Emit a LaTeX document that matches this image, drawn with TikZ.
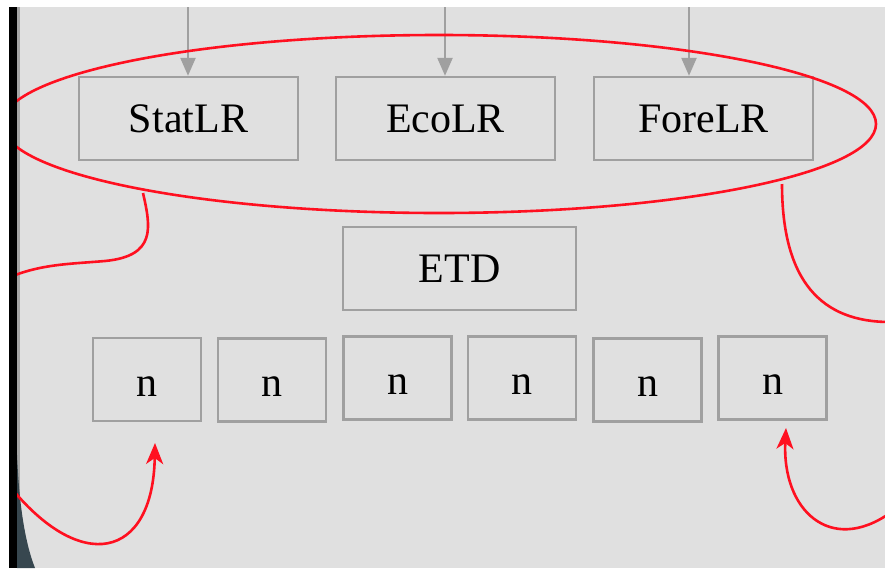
\documentclass[tikz,border=0pt]{standalone}
\usepackage{fontspec}
\setmainfont{Liberation Serif}
\usetikzlibrary{arrows.meta,shapes.geometric}
\definecolor{bg}{HTML}{E0E0E0}
\definecolor{boxgray}{HTML}{A0A0A0}
\definecolor{darkcorner}{HTML}{37474F}
\definecolor{redline}{HTML}{FF1020}
\tikzset{
  lbox/.style={draw=boxgray, line width=2.4pt, inner sep=0pt, minimum width=219pt, minimum height=83pt, font=\fontsize{42}{50}\selectfont},
  nbox/.style={draw=boxgray, line width=2.4pt, inner sep=0pt, minimum width=108pt, minimum height=83pt, text height=33pt, text depth=0pt, font=\fontsize{42}{50}\selectfont},
  garrow/.style={draw=boxgray, line width=2.4pt, -{Triangle[length=18pt,width=15pt]}},
  redcurve/.style={draw=redline, line width=2.6pt},
  redarrow/.style={draw=redline, line width=2.6pt, -{Stealth[length=21pt,width=17pt,inset=6pt]}},
}
\begin{document}
\begin{tikzpicture}[x=1pt,y=-1pt]
\useasboundingbox (0,0) rectangle (885,568);
% backgrounds
\fill[white] (0,0) rectangle (885,568);
\fill[bg] (17,7) rectangle (885,568);
\fill[gray!70] (17,7) rectangle (19.5,568);
\fill[darkcorner] (17,455) .. controls (19,500) and (24,540) .. (35,568) -- (17,568) -- cycle;

% boxes
\node[lbox] (stat) at (188.5,118.5) {StatLR};
\node[lbox] (eco) at (445.5,118.5) {EcoLR};
\node[lbox] (fore) at (703.5,118.5) {ForeLR};
\node[lbox, minimum width=233pt] (etd) at (459.5,268.5) {ETD};
\node[nbox] (n1) at (147,379.5) {n};
\node[nbox] (n2) at (272,380) {n};
\node[nbox] (n3) at (397.5,378) {n};
\node[nbox] (n4) at (522,378) {n};
\node[nbox] (n5) at (647.5,380) {n};
\node[nbox] (n6) at (772.5,378) {n};

% gray arrows from top
\coordinate (t1) at (188,7);
\coordinate (t2) at (445,7);
\coordinate (t3) at (689,7);
\draw[garrow] (t1) -- (t1 |- stat.north);
\draw[garrow] (t2) -- (t2 |- eco.north);
\draw[garrow] (t3) -- (t3 |- fore.north);

% ellipse grouping
\node[draw=redline, line width=2.6pt, ellipse, inner sep=0pt, minimum width=874pt, minimum height=178pt] (grp) at (439,124) {};

% red curves
\coordinate (c1s) at (143,193);
\coordinate (c1e) at (8,278);
\draw[redcurve] (c1s) .. controls (151,228) and (156,256) .. (105,261) .. controls (70,264) and (40,264) .. (c1e);
\coordinate (c2s) at (782,184);
\coordinate (c2e) at (890,322);
\draw[redcurve] (c2s) .. controls (782,282) and (822,322) .. (c2e);
\coordinate (c3s) at (8,484);
\coordinate (c3e) at (155,443);
\draw[redarrow] (c3s) .. controls (80,575) and (153,560) .. (c3e);
\coordinate (c4s) at (890,513);
\coordinate (c4e) at (786,428);
\draw[redarrow] (c4s) .. controls (830,555) and (782,510) .. (c4e);

% left bar and white margins on top
\fill[white] (0,0) rectangle (9,568);
\fill[white] (0,0) rectangle (885,7);
\fill[black] (9,7) rectangle (17,568);
\end{tikzpicture}
\end{document}
